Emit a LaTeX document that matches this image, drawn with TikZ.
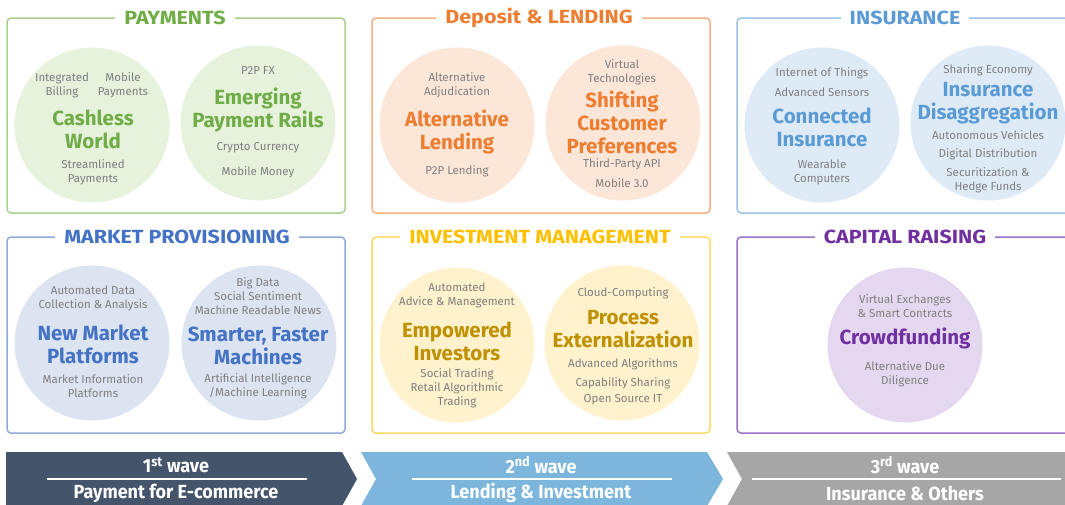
\documentclass[tikz,border=0pt]{standalone}
\usepackage{fontspec}
\setmainfont{Fira Sans}
\usepackage{graphicx}
\definecolor{gT}{HTML}{70AD47}
\definecolor{gF}{HTML}{E6F2DC}
\definecolor{gB}{HTML}{A9D18E}
\definecolor{oT}{HTML}{ED7D31}
\definecolor{oF}{HTML}{FCE6D8}
\definecolor{oB}{HTML}{F4B183}
\definecolor{bT}{HTML}{5B9BD5}
\definecolor{bF}{HTML}{DEEBF7}
\definecolor{bB}{HTML}{9DC3E6}
\definecolor{mT}{HTML}{4472C4}
\definecolor{mF}{HTML}{DCE4F2}
\definecolor{mB}{HTML}{8FAADC}
\definecolor{yT}{HTML}{FFC000}
\definecolor{yD}{HTML}{BF9000}
\definecolor{yF}{HTML}{FFF2CC}
\definecolor{yB}{HTML}{FFD966}
\definecolor{pT}{HTML}{7030A0}
\definecolor{pF}{HTML}{E4D8F0}
\definecolor{pB}{HTML}{9E6FC8}
\definecolor{sm}{HTML}{7F7F7F}
\definecolor{wA}{HTML}{44546A}
\definecolor{wB}{HTML}{7DB6DC}
\definecolor{wC}{HTML}{A6A6A6}
\newcommand\ttlx[1]{\scalebox{1.13}[1]{#1}}
\newcommand\wvx[1]{\scalebox{0.95}[1]{#1}}
\begin{document}
\begin{tikzpicture}[x=1pt,y=-1pt,
  panel/.style={draw=#1, line width=1.5pt, rounded corners=4pt},
  ptitle/.style={fill=white, text=#1, font=\bfseries\fontsize{19}{19}\selectfont, inner xsep=9pt, inner ysep=2pt},
  bub/.style={circle, fill=#1, minimum size=155pt, inner sep=0pt},
  big/.style={text=#1, font=\bfseries\fontsize{20.5}{23}\selectfont, align=center, inner sep=0pt},
  sml/.style={text=sm, font=\fontsize{11.5}{14}\selectfont, align=center, inner sep=0pt},
  wave/.style={text=white, font=\bfseries\fontsize{19}{19}\selectfont, inner sep=0pt},
  wline/.style={draw=white, line width=1.5pt}]
\useasboundingbox (0,0) rectangle (1065,504);
\clip (0,0) rectangle (1065,504);
\fill[white] (0,0) rectangle (1065,504);

% ---------- panels ----------
\draw[panel=gB] (7,18) rectangle (345,213);
\draw[panel=oB] (372,18) rectangle (710,213);
\draw[panel=bB] (737,18) rectangle (1080,213);
\draw[panel=mB] (7,237) rectangle (345,433);
\draw[panel=yB] (372,237) rectangle (710,433);
\draw[panel=pB] (737,237) rectangle (1080,433);

\node[ptitle=gT] (t1) at (175,18) {\ttlx{PAYMENTS}};
\node[ptitle=oT] (t2) at (539,18) {\ttlx{Deposit \& LENDING}};
\node[ptitle=bT] (t3) at (905,18) {\ttlx{INSURANCE}};
\node[ptitle=mT] (t4) at (177,237) {\ttlx{MARKET PROVISIONING}};
\node[ptitle=yT] (t5) at (540,237) {\ttlx{INVESTMENT MANAGEMENT}};
\node[ptitle=pT] (t6) at (905,237) {\ttlx{CAPITAL RAISING}};

% ---------- circles ----------
\node[bub=gF] (c1) at (92,125) {};
\node[bub=gF] (c2) at (258,123) {};
\node[bub=oF] (c3) at (457,125) {};
\node[bub=oF] (c4) at (623,123) {};
\node[bub=bF] (c5) at (822,125) {};
\node[bub=bF] (c6) at (988,123) {};
\node[bub=mF] (c7) at (92,343) {};
\node[bub=mF] (c8) at (259,343) {};
\node[bub=yF] (c9) at (457,345) {};
\node[bub=yF] (c10) at (622,343) {};
\node[bub=pF] (c11) at (905,345) {};

% ---------- Payments ----------
\node[sml] (a1) at (62,85) {Integrated\\Billing};
\node[sml] (a2) at (123,85) {Mobile\\Payments};
\node[big=gT] (a3) at (93,129) {Cashless\\World};
\node[sml] (a4) at (93,172) {Streamlined\\Payments};
\node[sml] (a5) at (258,71) {P2P FX};
\node[big=gT] (a6) at (258,110) {Emerging\\Payment Rails};
\node[sml] (a7) at (258,148) {Crypto Currency};
\node[sml] (a8) at (258,172) {Mobile Money};

% ---------- Deposit & Lending ----------
\node[sml] (b1) at (457,85) {Alternative\\Adjudication};
\node[big=oT] (b2) at (457,132) {Alternative\\Lending};
\node[sml] (b3) at (457,171) {P2P Lending};
\node[sml] (b4) at (622,72) {Virtual\\Technologies};
\node[big=oT] (b5) at (622,122) {Shifting\\Customer\\Preferences};
\node[sml] (b6) at (622,164) {Third-Party API};
\node[sml] (b7) at (622,183) {Mobile 3.0};

% ---------- Insurance ----------
\node[sml] (d1) at (822,73) {Internet of Things};
\node[sml] (d2) at (822,92) {Advanced Sensors};
\node[big=bT] (d3) at (822,127) {Connected\\Insurance};
\node[sml] (d4) at (822,172) {Wearable\\Computers};
\node[sml] (d5) at (988,70) {Sharing Economy};
\node[big=bT] (d6) at (988,103) {Insurance\\Disaggregation};
\node[sml] (d7) at (988,135) {Autonomous Vehicles};
\node[sml] (d8) at (988,154) {Digital Distribution};
\node[sml] (d9) at (988,180) {Securitization \&\\Hedge Funds};

% ---------- Market Provisioning ----------
\node[sml] (e1) at (93,298) {Automated Data\\Collection \& Analysis};
\node[big=mT] (e2) at (93,344) {New Market\\Platforms};
\node[sml] (e3) at (93,386) {Market Information\\Platforms};
\node[sml] (e4) at (258,296) {Big Data\\Social Sentiment\\Machine Readable News};
\node[big=mT] (e5) at (258,346) {Smarter, Faster\\Machines};
\node[sml] (e6) at (258,386) {Artificial Intelligence\\/Machine Learning};

% ---------- Investment Management ----------
\node[sml] (f1) at (457,295) {Automated\\Advice \& Management};
\node[big=yD] (f2) at (457,341) {Empowered\\Investors};
\node[sml] (f3) at (457,388) {Social Trading\\Retail Algorithmic\\Trading};
\node[sml] (f4) at (623,293) {Cloud-Computing};
\node[big=yD] (f5) at (623,329) {Process\\Externalization};
\node[sml] (f6) at (623,364) {Advanced Algorithms};
\node[sml] (f7) at (623,383) {Capability Sharing};
\node[sml] (f8) at (623,400) {Open Source IT};

% ---------- Capital Raising ----------
\node[sml] (g1) at (905,306) {Virtual Exchanges\\\& Smart Contracts};
\node[big=pT] (g2) at (905,338) {Crowdfunding};
\node[sml] (g3) at (905,374) {Alternative Due\\Diligence};

% ---------- waves ----------
\fill[wA] (6,452) -- (342,452) -- (357,479) -- (342,506) -- (6,506) -- cycle;
\fill[wB] (361,452) -- (707,452) -- (723,479) -- (707,506) -- (361,506) -- (376,479) -- cycle;
\fill[wC] (727,452) -- (1075,452) -- (1075,506) -- (727,506) -- (742,479) -- cycle;

\coordinate (l1a) at (47,479);  \coordinate (l1b) at (307,479);
\coordinate (l2a) at (412,479); \coordinate (l2b) at (672,479);
\coordinate (l3a) at (752,479); \coordinate (l3b) at (1061,479);
\draw[wline] (l1a) -- (l1b);
\draw[wline] (l2a) -- (l2b);
\draw[wline] (l3a) -- (l3b);

\node[wave] (w1) at (176,465) {\wvx{1\textsuperscript{st} wave}};
\node[wave] (w2) at (541,465) {\wvx{2\textsuperscript{nd} wave}};
\node[wave] (w3) at (905,465) {\wvx{3\textsuperscript{rd} wave}};
\node[wave] (v1) at (176,493) {\wvx{Payment for E-commerce}};
\node[wave] (v2) at (541,493) {\wvx{Lending \& Investment}};
\node[wave] (v3) at (905,493) {\wvx{Insurance \& Others}};
\end{tikzpicture}
\end{document}
